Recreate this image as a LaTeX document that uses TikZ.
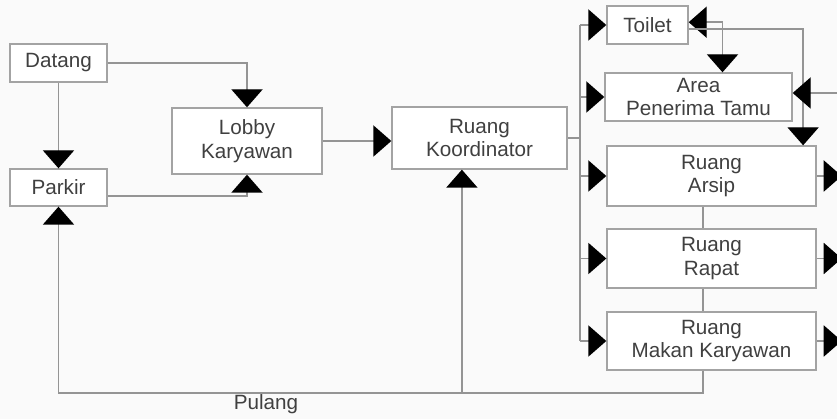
\documentclass[tikz,border=0pt]{standalone}
\usepackage{fontspec}
\setmainfont{Liberation Sans}
\usetikzlibrary{arrows.meta,positioning,calc}
\definecolor{wiregray}{gray}{0.58}
\definecolor{boxgray}{gray}{0.64}
\definecolor{inkgray}{gray}{0.25}
\tikzset{>={Triangle[length=0.45cm,width=0.78cm]}}

\begin{document}
\begin{tikzpicture}[
   room/.style={draw=boxgray,line width=1pt,align=center,inner sep=0,font=\fontsize{14.7}{17}\selectfont,text=inkgray,fill=white},
   wire/.style={draw=wiregray,line width=1pt},
   up/.style={wire,-{Triangle[length=0.45cm,width=0.78cm,fill=black,color=black]}},
   both/.style={wire,{Triangle[length=0.45cm,width=0.78cm,fill=black,color=black]}-{Triangle[length=0.45cm,width=0.78cm,fill=black,color=black]}},
   lbl/.style={font=\fontsize{14.7}{17}\selectfont,text=inkgray,inner sep=1pt}]
  \useasboundingbox (0,0) rectangle (20.925,10.475);
  \clip (0,0) rectangle (20.925,10.475);
  \fill[white!98!black] (0,0) rectangle (20.925,10.475);
  \node[room,minimum width=2.425cm,minimum height=0.95cm] (datang) at (1.4625,8.9) {Datang};
  \node[room,minimum width=2.425cm,minimum height=0.925cm] (parkir) at (1.4625,5.7875) {Parkir};
  \node[room,minimum width=3.75cm,minimum height=1.65cm] (lobby) at (6.175,6.95) {Lobby\\Karyawan};
  \node[room,minimum width=4.375cm,minimum height=1.55cm] (koord) at (11.9875,7.025) {Ruang\\Koordinator};
  \node[room,minimum width=2.025cm,minimum height=0.95cm] (toilet) at (16.1875,9.85) {Toilet};
  \node[room,minimum width=4.675cm,minimum height=1.2cm] (area) at (17.4625,8.05) {Area\\Penerima Tamu};
  \node[room,minimum width=5.225cm,minimum height=1.5cm] (arsip) at (17.7875,6.075) {Ruang\\Arsip};
  \node[room,minimum width=5.225cm,minimum height=1.475cm] (rapat) at (17.7875,4.0125) {Ruang\\Rapat};
  \node[room,minimum width=5.225cm,minimum height=1.45cm] (makan) at (17.7875,1.95) {Ruang\\Makan Karyawan};
  \coordinate (bus) at (14.5,7.025);
  \coordinate (pl) at (1.4625,0.65);
  \coordinate (edge) at (20.925,8.15);
  \node[lbl] (pulang) at (6.65,0.375) {Pulang};
  % arrival side
  \draw[up] (datang.east) -| (lobby.north);
  \draw[up] (datang.south) -- (parkir.north);
  \draw[up] ([yshift=-0.21cm]parkir.east) -| (lobby.south);
  \draw[up] (lobby.east) -- (lobby.east -| koord.west);
  % distribution bus
  \draw[wire] (koord.east) -- (bus);
  \draw[wire] (bus |- toilet.west) -- (bus |- makan.west);
  \foreach \n in {toilet,area,arsip,rapat,makan}
    \draw[up] (bus |- \n.west) -- (\n.west);
  \draw[both] ([yshift=0.07cm]toilet.east) -| ([xshift=0.6cm]area.north);
  \draw[up] ([yshift=-0.1cm]toilet.east) -| ([xshift=2.29cm]arsip.north);
  \draw[up] (edge) -- (edge -| area.east);
  \foreach \n in {arsip,rapat,makan}
    \draw[up] (\n.east) -- ++(0.625,0);
  \draw[wire] ([xshift=-0.21cm]arsip.south) -- ([xshift=-0.21cm]rapat.north);
  \draw[wire] ([xshift=-0.21cm]rapat.south) -- ([xshift=-0.21cm]makan.north);
  % way back
  \draw[up] ([xshift=-0.21cm]makan.south) |- (pl) -- (parkir.south);
  \draw[up] ([xshift=-0.44cm]koord.south |- pl) -- ([xshift=-0.44cm]koord.south);
\end{tikzpicture}
\end{document}
